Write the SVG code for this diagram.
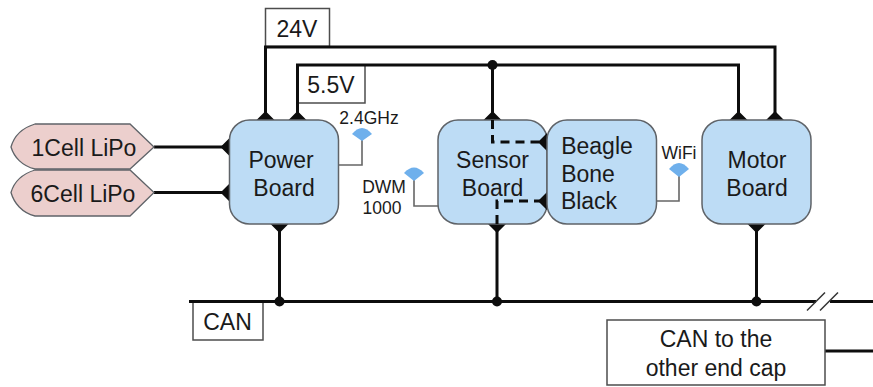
<svg xmlns="http://www.w3.org/2000/svg" width="873" height="387" viewBox="0 0 873 387">
<style>
text{font-family:"Liberation Sans",Arial,sans-serif;fill:#1a1a1a;text-anchor:middle}
.l{font-size:23px}
.s{font-size:17.500px}
.w{fill:none;stroke:#0d0d0d;stroke-width:3}
.d{fill:none;stroke:#0d0d0d;stroke-width:3;stroke-dasharray:9 6}
.t{fill:none;stroke:#666;stroke-width:1.6}
.b{fill:#bddcf5;stroke:#5f6368;stroke-width:1.5}
.x{fill:#fff;stroke:#4d4d4d;stroke-width:1.5}
.p{fill:#eccfcd;stroke:#5f6368;stroke-width:1.3}
.a{fill:#6fb0ec}
.k{fill:#0d0d0d}
</style>
<rect width="873" height="387" fill="#fff"/>
<g id="label-24v"><rect class="x" x="265.500" y="8.500" width="64" height="38"/><text class="l" x="297" y="37">24V</text></g>
<g id="label-55v"><rect class="x" x="297.500" y="65" width="67.500" height="38"/><text class="l" x="331" y="93">5.5V</text></g>
<g id="label-can"><rect class="x" x="193" y="302" width="70" height="38"/><text class="l" x="227.500" y="330">CAN</text></g>
<g id="connectors">
<path class="w" d="M265.500 120V47H775V120"/>
<path class="w" d="M297.500 120V65H738.500V120"/>
<path class="w" d="M492.500 65V120"/>
<circle class="k" cx="492.500" cy="65" r="5"/>
<path class="w" d="M154 147H229M154 192.500H229"/>
<path class="w" d="M279.500 224V301.500M497 224V301.500M756.500 224V301.500"/>
<path class="w" d="M189 301.500H816M830 301.500H873"/>
<path style="fill:none;stroke:#333;stroke-width:1.500" d="M807 310.500L825 292.500M820 310.500L838 292.500"/>
<circle class="k" cx="279.500" cy="301.500" r="5"/>
<circle class="k" cx="497" cy="301.500" r="5"/>
<circle class="k" cx="756.500" cy="301.500" r="5"/>
<path class="w" d="M825 351H873"/>
<path class="k" d="M256.500 120L265.500 111L274.500 120ZM288.500 120L297.500 111L306.500 120ZM483.500 120L492.500 111L501.500 120ZM729.500 120L738.500 111L747.500 120ZM766 120L775 111L784 120Z"/>
<path class="k" d="M229.500 138L220.500 147L229.500 156ZM229.500 183.500L220.500 192.500L229.500 201.500Z"/>
<path class="k" d="M270.500 224L279.500 233L288.500 224ZM488 224L497 233L506 224ZM747.500 224L756.500 233L765.500 224Z"/>
<path class="t" d="M338.500 165H362V138M438 206H414V179M656.500 201H679V175"/>
</g>
<g id="lipo-1"><path class="p" d="M35 124H130L154 147L130 169H35C22 166 14 157 11 147C14 136 22 128 35 124Z"/><text class="l" x="84" y="156">1Cell LiPo</text></g>
<g id="lipo-6"><path class="p" d="M35 170H130L154 192.500L130 216H35C22 213 14 203 11 192.500C14 182 22 174 35 170Z"/><text class="l" x="83" y="202">6Cell LiPo</text></g>
<g id="power-board"><rect class="b" x="229.500" y="120" width="109" height="104" rx="20"/><text class="l" x="281" y="168">Power</text><text class="l" x="284" y="196">Board</text></g>
<g id="sensor-board"><rect class="b" x="438" y="120" width="109" height="104" rx="20"/><text class="l" x="492.500" y="168">Sensor</text><text class="l" x="492.500" y="196">Board</text>
<path class="d" d="M492.500 120V142H540"/><path class="d" d="M497 224V201H540"/>
<path class="k" d="M547 133L538 142L547 151ZM547 192L538 201L547 210Z"/></g>
<g id="beagle-bone-black"><rect class="b" x="547" y="120" width="109.500" height="104" rx="20"/><text class="l" x="597" y="154">Beagle</text><text class="l" x="588" y="182">Bone</text><text class="l" x="589" y="209">Black</text></g>
<g id="motor-board"><rect class="b" x="702" y="120" width="109" height="104" rx="20"/><text class="l" x="757" y="168">Motor</text><text class="l" x="757" y="196">Board</text></g>
<g id="antenna-24"><path class="a" d="M352 134Q362 122 372 134L362 141Z"/><text class="s" x="369" y="124">2.4GHz</text></g>
<g id="antenna-dwm"><path class="a" d="M404 173Q414 162 424 173L414 181Z"/><text class="s" x="384" y="193">DWM</text><text class="s" x="382" y="214">1000</text></g>
<g id="antenna-wifi"><path class="a" d="M669 169Q679 157 689 169L679 177Z"/><text class="s" x="679" y="159">WiFi</text></g>
<g id="can-other"><rect class="x" x="607" y="320" width="218" height="65"/><text class="l" x="716" y="347">CAN to the</text><text class="l" x="716" y="376">other end cap</text></g>
</svg>
